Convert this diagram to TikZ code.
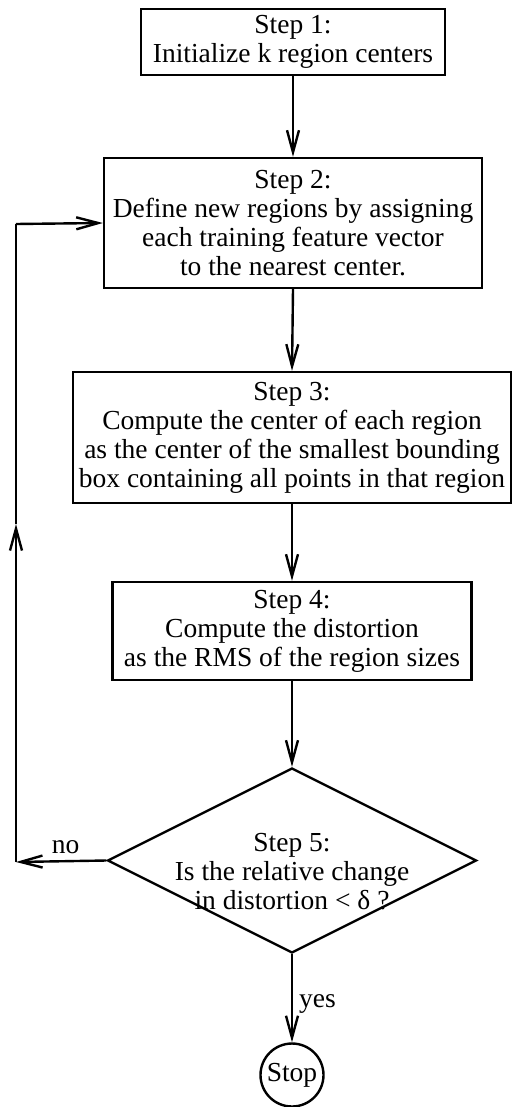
\documentclass[tikz,border=0pt]{standalone}
\usepackage{fontspec}
\setmainfont{Liberation Serif}
\usetikzlibrary{arrows.meta,shapes.geometric}
\begin{document}
\begin{tikzpicture}[x=1pt,y=-1pt,
  font=\fontsize{27.5}{29}\selectfont,
  line width=2.4pt,
  arr/.style={-{Straight Barb[length=22pt,width=12pt,line width=2.4pt]}},
  stepbox/.style={draw,rectangle,inner sep=0pt,align=center},
  lbl/.style={inner sep=2pt}]
\useasboundingbox (0,0) rectangle (512,1107);
\node[stepbox,minimum width=304pt,minimum height=66pt] (b1) at (293,42)
  {Step 1:\\Initialize k region centers};
\node[stepbox,minimum width=378pt,minimum height=130pt] (b2) at (293,223)
  {Step 2:\\Define new regions by assigning\\each training feature vector\\to the nearest center.};
\node[stepbox,minimum width=438pt,minimum height=131pt] (b3) at (292,437.5)
  {Step 3:\\Compute the center of each region\\as the center of the smallest bounding\\box containing all points in that region};
\node[stepbox,minimum width=359pt,minimum height=98pt] (b4) at (292,631)
  {Step 4:\\Compute the distortion\\as the RMS of the region sizes};
\node[draw,diamond,inner sep=0pt,minimum width=369pt,minimum height=185pt] (d) at (292,860.5) {};
\node[align=center,inner sep=0pt] (dt) at (292,872)
  {Step 5:\\Is the relative change\\in distortion < δ ?};
\node[draw,circle,inner sep=0pt,minimum size=63pt] (stop) at (292,1075) {Stop};
\coordinate (c1) at (16,862);
\coordinate (cm) at (16,524);
\coordinate (c2) at (16,224);
\draw[arr] (b1.south) -- (b2.north);
\draw[arr] (b2.south) -- (b3.north);
\draw[arr] (b3.south) -- (b4.north);
\draw[arr] (b4.south) -- (d.north);
\draw[arr] (d.south) -- node[lbl,right,pos=0.56,xshift=4pt] {yes} (stop.north);
\draw[arr] (d.west) -- node[lbl,above,pos=0.45,yshift=4pt] {no} (c1);
\draw[arr] (c1) -- (cm);
\draw (cm) -- (c2);
\draw[arr] (c2) -- (b2.west);
\end{tikzpicture}
\end{document}
